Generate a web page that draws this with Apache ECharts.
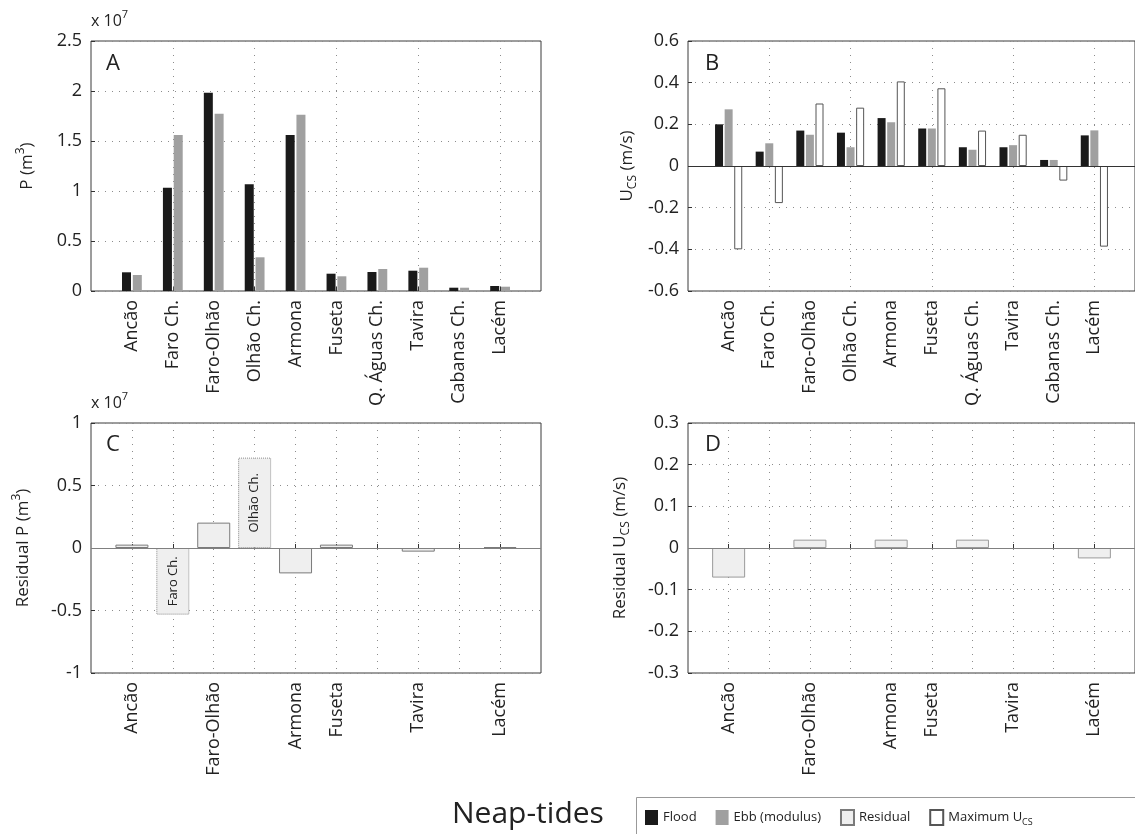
<!DOCTYPE html>
<html>
<head>
<meta charset="utf-8">
<title>Neap-tides</title>
<script src="https://cdn.jsdelivr.net/npm/echarts@6/dist/echarts.min.js"></script>
<style>
  html, body { margin: 0; padding: 0; background: #fff; }
  #chart { width: 1135px; height: 834px; }
</style>
</head>
<body>
<div id="chart"></div>
<script>
// inlets, in x axis order
const sites = ['Ancão', 'Faro Ch.', 'Faro-Olhão', 'Olhão Ch.', 'Armona', 'Fuseta', 'Q. Águas Ch.', 'Tavira', 'Cabanas Ch.', 'Lacém']
// only these get a label under the residual panels
const residualSites = ['Ancão', 'Faro-Olhão', 'Armona', 'Fuseta', 'Tavira', 'Lacém']
// these two are drawn as dotted, labelled boxes in C
const boxedSites = ['Faro Ch.', 'Olhão Ch.']

// A: tidal prism (x 10^7 m3)
const prismFlood = [0.187, 1.033, 1.983, 1.067, 1.56, 0.173, 0.19, 0.203, 0.033, 0.05]
const prismEbb = [0.16, 1.56, 1.773, 0.337, 1.763, 0.147, 0.22, 0.233, 0.033, 0.043]

// B: cross-sectional velocity (m/s)
const ucsFlood = [0.2, 0.069, 0.17, 0.16, 0.23, 0.18, 0.09, 0.09, 0.029, 0.147]
const ucsEbb = [0.272, 0.109, 0.15, 0.09, 0.21, 0.18, 0.078, 0.1, 0.029, 0.171]
const ucsMax = [-0.4, -0.178, 0.3, 0.28, 0.406, 0.373, 0.17, 0.15, -0.07, -0.387]

// C: residual prism (x 10^7 m3), null = no bar
const prismResidual = [0.027, -0.533, 0.203, 0.723, -0.203, 0.027, null, -0.029, null, 0.008]

// D: residual velocity (m/s), null = no bar
const ucsResidual = [-0.071, null, 0.02, null, 0.02, null, 0.02, null, null, -0.025]

const FONT = 'Open Sans'
const TXT = '#222'
const GRIDDOT = { color: '#8c8c8c', width: 1, type: [1, 6] }

function pairs(vals) {
  return vals.map((v, i) => (v === null ? null : [i + 1, v])).filter(Boolean)
}

function xAxisFor(gridIndex, everyPos, showLabel) {
  const onGrid = (i) => i > 0 && i < sites.length + 1 && (everyPos || i % 2 === 0)
  return {
    type: 'category',
    gridIndex: gridIndex,
    data: [''].concat(sites, ['']),
    boundaryGap: false,
    axisLine: { show: false },
    axisTick: { show: true, inside: true, length: 4, interval: onGrid, lineStyle: { color: '#333' } },
    splitLine: { show: true, interval: onGrid, lineStyle: GRIDDOT },
    axisLabel: {
      rotate: 90,
      margin: 9,
      interval: (i, name) => showLabel(name),
      fontFamily: FONT,
      fontSize: 18,
      color: TXT
    }
  }
}

function yAxisFor(gridIndex, min, max, interval, name, nameGap) {
  return {
    type: 'value',
    gridIndex: gridIndex,
    min: min,
    max: max,
    interval: interval,
    axisLine: { show: false },
    axisTick: { show: true, inside: true, length: 4, lineStyle: { color: '#333' } },
    splitLine: { show: true, lineStyle: GRIDDOT },
    axisLabel: { margin: 9, fontFamily: FONT, fontSize: 18, color: TXT },
    name: name,
    nameLocation: 'middle',
    nameRotate: 90,
    nameGap: nameGap,
    nameTextStyle: {
      fontFamily: FONT,
      fontSize: 17,
      color: TXT,
      lineHeight: 24,
      rich: {
        sup: { fontFamily: FONT, fontSize: 12, color: TXT, lineHeight: 24, verticalAlign: 'top' },
        sub: { fontFamily: FONT, fontSize: 12, color: TXT, lineHeight: 24, verticalAlign: 'bottom' }
      }
    }
  }
}

const zeroLine = (color) => ({
  silent: true,
  symbol: 'none',
  label: { show: false },
  lineStyle: { color: color, type: 'solid', width: 1.2 },
  data: [{ yAxis: 0 }]
})

const residualPData = prismResidual.map((v, i) => {
  if (v === null) return null
  const item = { value: [i + 1, v] }
  if (boxedSites.includes(sites[i])) {
    item.itemStyle = { borderType: 'dotted', borderColor: '#8c8c8c' }
    item.label = {
      show: true,
      position: 'inside',
      rotate: 90,
      formatter: sites[i],
      fontFamily: FONT,
      fontSize: 13,
      color: TXT
    }
  }
  return item
}).filter(Boolean)

const chart = echarts.init(document.getElementById('chart'), null, { renderer: 'canvas' })

const panelLetter = (x, y, t) => ({
  type: 'text', left: x, top: y,
  style: { text: t, fontFamily: FONT, fontSize: 22, fill: TXT }
})
const timesTen = (x, y) => ({
  type: 'text', left: x, top: y,
  style: {
    text: 'x 10{sup|7}',
    fontFamily: FONT, fontSize: 16, fill: TXT,
    rich: { sup: { fontFamily: FONT, fontSize: 11, fill: TXT, verticalAlign: 'top', lineHeight: 24 } }
  }
})

chart.setOption({
  animation: false,
  backgroundColor: '#fff',
  grid: [
    { left: 91, top: 41, width: 450, height: 250, show: true, borderColor: '#3a3a3a', borderWidth: 1 },
    { left: 688, top: 41, width: 453, height: 250, show: true, borderColor: '#3a3a3a', borderWidth: 1 },
    { left: 91, top: 423, width: 450, height: 250, show: true, borderColor: '#3a3a3a', borderWidth: 1 },
    { left: 688, top: 423, width: 453, height: 250, show: true, borderColor: '#3a3a3a', borderWidth: 1 }
  ],
  xAxis: [
    xAxisFor(0, false, () => true),
    xAxisFor(1, false, () => true),
    xAxisFor(2, true, (n) => residualSites.includes(n)),
    xAxisFor(3, true, (n) => residualSites.includes(n))
  ],
  yAxis: [
    yAxisFor(0, 0, 2.5, 0.5, 'P (m{sup|3})', 52),
    yAxisFor(1, -0.6, 0.6, 0.2, 'U{sub|CS} (m/s)', 49),
    yAxisFor(2, -1, 1, 0.5, 'Residual P (m{sup|3})', 56),
    yAxisFor(3, -0.3, 0.3, 0.1, 'Residual U{sub|CS} (m/s)', 56)
  ],
  legend: {
    data: ['Flood', 'Ebb (modulus)', 'Residual', 'Maximum U_CS'],
    left: 636,
    top: 797,
    icon: 'rect',
    itemWidth: 13,
    itemHeight: 15,
    itemGap: 19,
    padding: [12, 10, 20, 9],
    selectedMode: false,
    formatter: (name) => (name === 'Maximum U_CS' ? '{t|Maximum U}{s|CS}' : name),
    textStyle: {
      fontFamily: FONT,
      fontSize: 13,
      color: TXT,
      rich: {
        t: { fontFamily: FONT, fontSize: 13, color: TXT, lineHeight: 18 },
        s: { fontFamily: FONT, fontSize: 9, color: TXT, lineHeight: 18, verticalAlign: 'bottom' }
      }
    }
  },
  graphic: [
    panelLetter(106, 53, 'A'),
    panelLetter(705, 53, 'B'),
    panelLetter(106, 434, 'C'),
    panelLetter(705, 434, 'D'),
    timesTen(91, 9),
    timesTen(91, 391),
    {
      type: 'text', left: 452, top: 799,
      style: { text: 'Neap-tides', fontFamily: FONT, fontSize: 30, fill: TXT }
    },
    // legend frame, runs off the right and bottom edges like the original
    {
      type: 'rect', left: 636, top: 797, z: -1,
      shape: { width: 540, height: 60 },
      style: { fill: '#fff', stroke: '#999', lineWidth: 1 }
    }
  ],
  series: [
    {
      name: 'Flood', type: 'bar', xAxisIndex: 0, yAxisIndex: 0,
      barWidth: 9, barGap: '20%',
      itemStyle: { color: '#1a1a1a' },
      data: pairs(prismFlood)
    },
    {
      name: 'Ebb (modulus)', type: 'bar', xAxisIndex: 0, yAxisIndex: 0,
      barWidth: 9, barGap: '20%',
      itemStyle: { color: '#a0a0a0' },
      data: pairs(prismEbb)
    },
    {
      name: 'Flood', type: 'bar', xAxisIndex: 1, yAxisIndex: 1,
      barWidth: 8, barGap: '20%',
      itemStyle: { color: '#1a1a1a' },
      data: pairs(ucsFlood),
      markLine: zeroLine('#333')
    },
    {
      name: 'Ebb (modulus)', type: 'bar', xAxisIndex: 1, yAxisIndex: 1,
      barWidth: 8, barGap: '20%',
      itemStyle: { color: '#a0a0a0' },
      data: pairs(ucsEbb)
    },
    {
      name: 'Maximum U_CS', type: 'bar', xAxisIndex: 1, yAxisIndex: 1,
      barWidth: 8, barGap: '20%',
      itemStyle: { color: '#fff', borderColor: '#555', borderWidth: 1 },
      data: pairs(ucsMax)
    },
    {
      name: 'Residual', type: 'bar', xAxisIndex: 2, yAxisIndex: 2,
      barWidth: 33,
      itemStyle: { color: '#efefef', borderColor: '#7a7a7a', borderWidth: 1 },
      data: residualPData,
      markLine: zeroLine('#808080')
    },
    {
      name: 'Residual', type: 'bar', xAxisIndex: 3, yAxisIndex: 3,
      barWidth: 33,
      itemStyle: { color: '#efefef', borderColor: '#9a9a9a', borderWidth: 1 },
      data: pairs(ucsResidual),
      markLine: zeroLine('#808080')
    }
  ]
})
</script>
</body>
</html>
